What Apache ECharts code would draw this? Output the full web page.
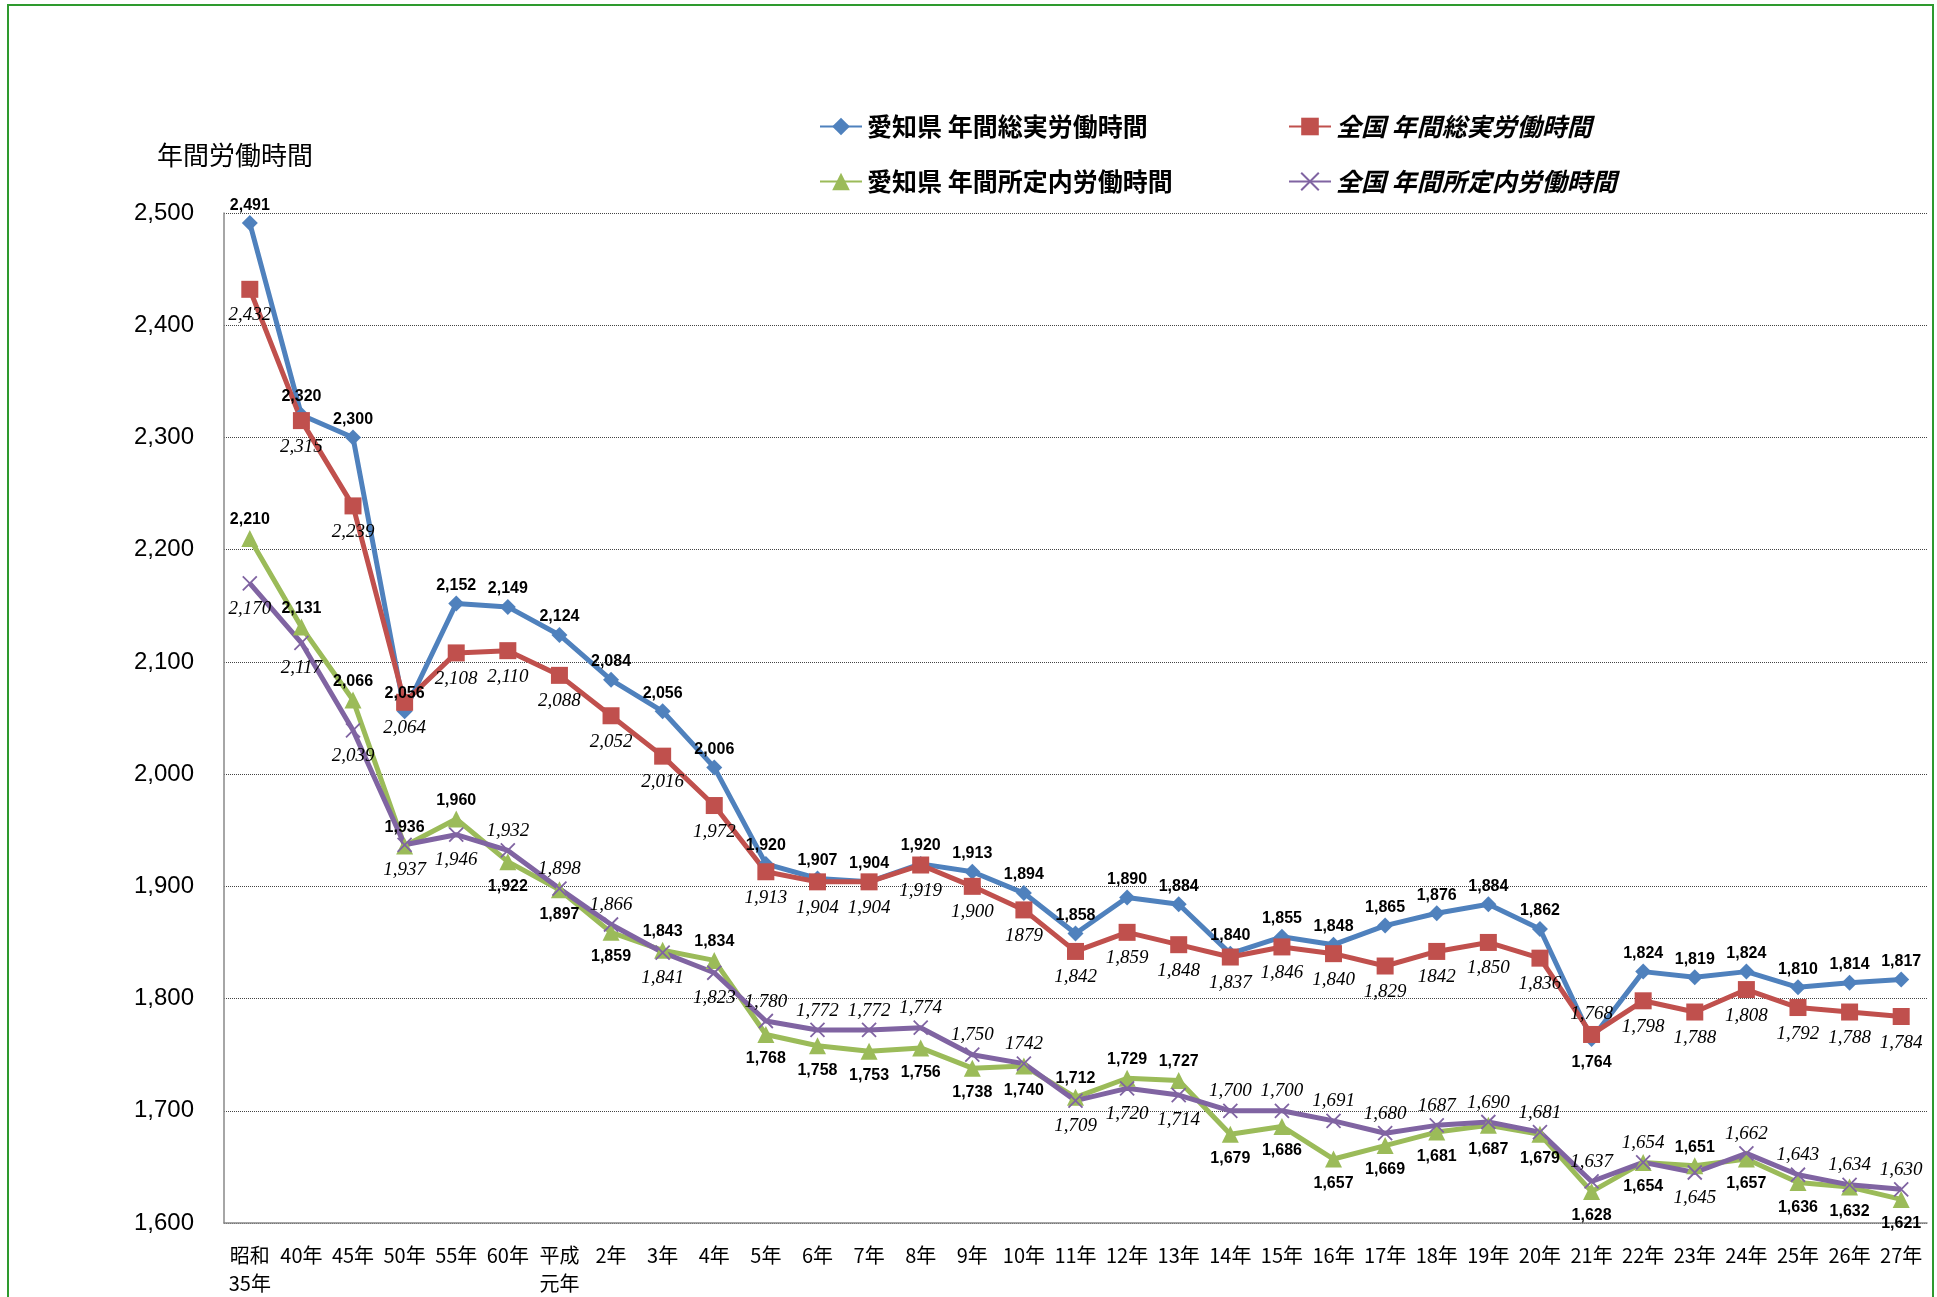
<!DOCTYPE html>
<html>
<head>
<meta charset="utf-8">
<script src="https://cdn.jsdelivr.net/npm/echarts@6/dist/echarts.min.js"></script>
<style>
html,body{margin:0;padding:0;background:#fff;}
#chart{width:1937px;height:1297px;}
</style>
</head>
<body>
<div id="chart"></div>
<script>
// ---- data ----
const categories = ['昭和\n35年','40年','45年','50年','55年','60年','平成\n元年','2年','3年','4年','5年','6年','7年','8年','9年','10年','11年','12年','13年','14年','15年','16年','17年','18年','19年','20年','21年','22年','23年','24年','25年','26年','27年'];
const seriesNames = ['愛知県 年間総実労働時間','全国 年間総実労働時間','愛知県 年間所定内労働時間','全国 年間所定内労働時間'];
const aichiTotal = [2491,2320,2300,2056,2152,2149,2124,2084,2056,2006,1920,1907,1904,1920,1913,1894,1858,1890,1884,1840,1855,1848,1865,1876,1884,1862,1764,1824,1819,1824,1810,1814,1817];
const zenkokuTotal = [2432,2315,2239,2064,2108,2110,2088,2052,2016,1972,1913,1904,1904,1919,1900,1879,1842,1859,1848,1837,1846,1840,1829,1842,1850,1836,1768,1798,1788,1808,1792,1788,1784];
const aichiScheduled = [2210,2131,2066,1936,1960,1922,1897,1859,1843,1834,1768,1758,1753,1756,1738,1740,1712,1729,1727,1679,1686,1657,1669,1681,1687,1679,1628,1654,1651,1657,1636,1632,1621];
const zenkokuScheduled = [2170,2117,2039,1937,1946,1932,1898,1866,1841,1823,1780,1772,1772,1774,1750,1742,1709,1720,1714,1700,1700,1691,1680,1687,1690,1681,1637,1654,1645,1662,1643,1634,1630];
const yTicks = {min:1600, max:2500, interval:100};
// labels printed without thousands separator in the original
const noCommaZenkokuTotal = [15,23];
const noCommaZenkokuScheduled = [15,23];
// points where the label side differs from the "higher value on top" rule
const flipAichiTotal = [3];
const flipAichiScheduled = [3,27];

// ---- styling ----
const colors = ['#4F81BD','#C0504D','#9BBB59','#8064A2'];
const boldLabel = {fontFamily:'Liberation Sans, Arial, sans-serif', fontWeight:'bold', fontSize:16, color:'#000'};
const italicLabel = {fontFamily:'Liberation Serif, serif', fontStyle:'italic', fontSize:19, color:'#000'};

function fmt(v, noComma){ return noComma ? String(v) : v.toLocaleString('en-US'); }

function buildData(vals, partner, isPrimary, flips){
  return vals.map((v,i)=>{
    let top = isPrimary ? v >= partner[i] : v > partner[i];
    if (flips.includes(i)) top = !top;
    return {value:v, label:{position: top ? 'top':'bottom', distance: top ? 2 : 8}};
  });
}

const aichiTotalData = buildData(aichiTotal, zenkokuTotal, true, flipAichiTotal);
const zenkokuTotalData = buildData(zenkokuTotal, aichiTotal, false, flipAichiTotal);
const aichiSchedData = buildData(aichiScheduled, zenkokuScheduled, true, flipAichiScheduled);
const zenkokuSchedData = buildData(zenkokuScheduled, aichiScheduled, false, flipAichiScheduled);

function mkSeries(idx, data, symbol, size, labelStyle, noComma){
  return {
    name: seriesNames[idx], type:'line', data: data,
    symbol: symbol, symbolSize: size,
    lineStyle:{color:colors[idx], width:5},
    itemStyle:{color:colors[idx], borderColor:colors[idx], borderWidth: symbol.startsWith('path') ? 1.8 : 0},
    label: Object.assign({show:true, formatter: p => fmt(p.value, noComma.includes(p.dataIndex))}, labelStyle),
    emphasis:{disabled:true},
    animation:false
  };
}

const legendText = (italic) => ({fontFamily:'Noto Sans CJK JP, sans-serif', fontSize:25, fontWeight:'bold', fontStyle: italic?'italic':'normal', color:'#000'});
function mkLegend(idx, left, top, italic){
  return {data:[seriesNames[idx]], left:left, top:top, itemWidth:42, itemHeight:22, itemGap:0, padding:0, textStyle:legendText(italic), selectedMode:false};
}

const chart = echarts.init(document.getElementById('chart'));
chart.setOption({
  animation:false,
  backgroundColor:'#fff',
  title:{text:'年間労働時間', left:152, top:137, textStyle:{fontFamily:'Noto Sans CJK JP, sans-serif', fontSize:26, fontWeight:'normal', color:'#000'}},
  legend:[
    mkLegend(0, 819, 114, false),
    mkLegend(1, 1288, 114, true),
    mkLegend(2, 819, 169, false),
    mkLegend(3, 1288, 169, true)
  ],
  graphic:[{type:'rect', shape:{x:8, y:5, width:1925, height:1320}, style:{fill:'none', stroke:'#2E9A2E', lineWidth:2}, silent:true}],
  grid:{left:224, right:10, top:213, bottom:74},
  xAxis:{
    type:'category', data:categories, boundaryGap:true,
    axisLine:{lineStyle:{color:'#888', width:1.5}},
    axisTick:{inside:true, length:5, lineStyle:{color:'#888'}},
    axisLabel:{interval:0, margin:18, fontFamily:'Noto Sans CJK JP, sans-serif', fontSize:20, lineHeight:28, color:'#000', verticalAlign:'top'}
  },
  yAxis:{
    type:'value', min:yTicks.min, max:yTicks.max, interval:yTicks.interval,
    axisLine:{show:true, lineStyle:{color:'#888', width:1.5}},
    axisTick:{show:false},
    splitLine:{lineStyle:{type:'dotted', color:'#444', width:1}},
    axisLabel:{margin:30, fontFamily:'Liberation Sans, Arial, sans-serif', fontSize:24, color:'#000', formatter: v => v.toLocaleString('en-US')}
  },
  series:[
    mkSeries(0, aichiTotalData, 'diamond', 16, boldLabel, []),
    mkSeries(1, zenkokuTotalData, 'rect', 17, italicLabel, noCommaZenkokuTotal),
    mkSeries(2, aichiSchedData, 'triangle', 17, boldLabel, []),
    mkSeries(3, zenkokuSchedData, 'path://M0,0L10,10M10,0L0,10', 14, italicLabel, noCommaZenkokuScheduled)
  ]
});
</script>
</body>
</html>
